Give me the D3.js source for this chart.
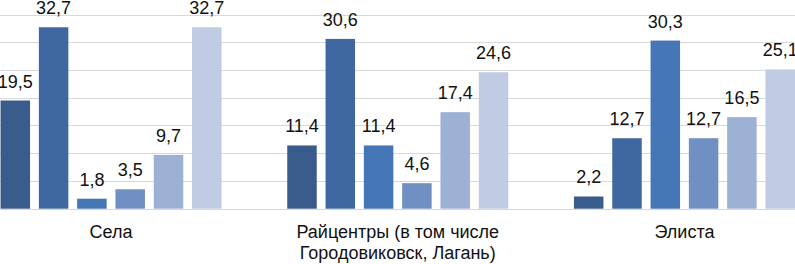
<!DOCTYPE html>
<html><head><meta charset="utf-8">
<script src="https://cdn.jsdelivr.net/npm/d3@7"></script>
<style>body{margin:0;background:#fff}svg{display:block}</style>
</head><body>
<script>
const categories = ["Села", "Райцентры (в том числе\nГородовиковск, Лагань)", "Элиста"];
const seriesNames = ["s1", "s2", "s3", "s4", "s5", "s6"];
const values = [
  [19.5, 32.7, 1.8, 3.5, 9.7, 32.7],
  [11.4, 30.6, 11.4, 4.6, 17.4, 24.6],
  [2.2, 12.7, 30.3, 12.7, 16.5, 25.1]
];
const colors = ["#395C8C", "#3F68A0", "#4576B5", "#7090C4", "#9DB1D5", "#C0CCE3"];
const yTicks = [0, 5, 10, 15, 20, 25, 30, 35];

const W = 795, H = 264;
const svg = d3.select("body").append("svg").attr("width", W).attr("height", H);

const y = d3.scaleLinear().domain([0, 35]).range([208.7, 14.5]);
const x0 = d3.scaleBand().domain(categories).range([-32.3, 827.8]).padding(0);
const x1 = d3.scaleBand().domain(seriesNames).range([-110.5, 110.5]).paddingInner(0.23).paddingOuter(0);

svg.append("g").selectAll("line").data(yTicks).join("line")
  .attr("x1", 0).attr("x2", W)
  .attr("y1", d => Math.round(y(d)) + 0.5).attr("y2", d => Math.round(y(d)) + 0.5)
  .attr("stroke", "#d9d9d9").attr("stroke-width", 1.2);

const groups = svg.append("g").selectAll("g").data(categories).join("g")
  .attr("transform", d => `translate(${x0(d) + x0.bandwidth() / 2},0)`);

groups.each(function(cat, gi) {
  const g = d3.select(this);
  const data = values[gi].map((v, i) => ({ s: seriesNames[i], v, i }));
  g.selectAll("rect").data(data).join("rect")
    .attr("x", d => x1(d.s)).attr("width", x1.bandwidth())
    .attr("y", d => y(d.v)).attr("height", d => y(0) - y(d.v))
    .attr("fill", d => colors[d.i]);
  g.selectAll("text.v").data(data).join("text").attr("class", "v")
    .attr("x", d => x1(d.s) + x1.bandwidth() / 2)
    .attr("y", d => y(d.v) - 13)
    .attr("text-anchor", "middle")
    .attr("font-family", "Liberation Sans, Arial, sans-serif")
    .attr("font-size", 18).attr("fill", "#111")
    .text(d => d.v.toFixed(1).replace(".", ","));
  const lines = cat.split("\n");
  g.append("text").attr("text-anchor", "middle")
    .attr("font-family", "Liberation Sans, Arial, sans-serif")
    .attr("font-size", 18).attr("fill", "#111")
    .selectAll("tspan").data(lines).join("tspan")
    .attr("x", 0).attr("y", (d, i) => 238 + i * 20.5).text(d => d);
});
</script>
</body></html>
